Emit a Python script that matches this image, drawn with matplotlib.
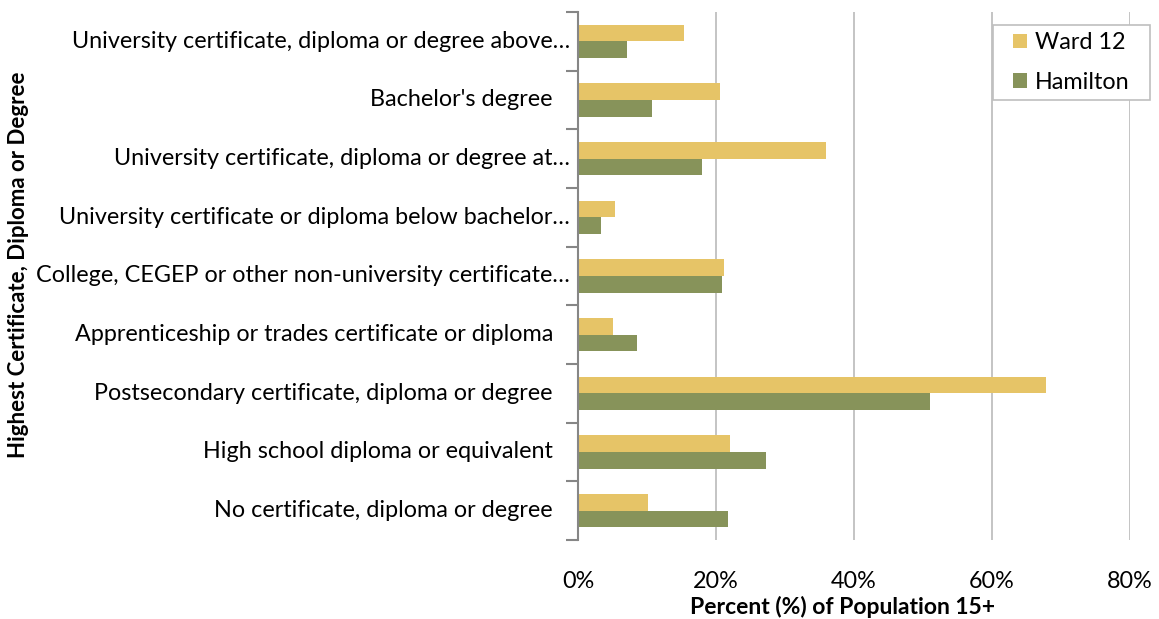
import matplotlib.pyplot as plt
import matplotlib.transforms as mtransforms
from matplotlib.patches import Rectangle
import numpy as np

plt.rcParams['font.family'] = ['Lato', 'DejaVu Sans']

# categories top to bottom
categories = [
    "University certificate, diploma or degree above\u2026",
    "Bachelor's degree",
    "University certificate, diploma or degree at\u2026",
    "University certificate or diploma below bachelor\u2026",
    "College, CEGEP or other non-university certificate\u2026",
    "Apprenticeship or trades certificate or diploma",
    "Postsecondary certificate, diploma or degree",
    "High school diploma or equivalent",
    "No certificate, diploma or degree",
]
ward12 = [15.3, 20.6, 35.9, 5.4, 21.2, 5.1, 67.8, 22.1, 10.1]
hamilton = [7.1, 10.7, 18.0, 3.4, 20.9, 8.5, 51.0, 27.3, 21.8]
xticks = [0, 20, 40, 60, 80]

gold = "#E6C467"
olive = "#87935A"
fs = 16.8

W, H = 1159, 619
fig = plt.figure(figsize=(W / 100, H / 100), dpi=100)
ax = fig.add_axes([578 / W, 1 - 540 / H, (1130 - 578) / W, (540 - 12) / H])

n = len(categories)
y = np.arange(n)[::-1]  # first category on top
h = 0.285
ax.barh(y + h / 2, ward12, height=h, color=gold, label="Ward 12", zorder=3)
ax.barh(y - h / 2, hamilton, height=h, color=olive, label="Hamilton", zorder=3)

ax.set_xlim(0, 80)
ax.set_ylim(-0.5, n - 0.5)
ax.set_xticks(xticks)
ax.set_xticklabels([f"{t}%" for t in xticks], fontsize=fs)
ax.tick_params(axis="x", length=0, pad=22)
ax.grid(axis="x", color="#BFBFBF", linewidth=1.3, zorder=0)

# category boundaries as ticks on the left axis
ax.set_yticks(np.arange(n + 1) - 0.5)
ax.set_yticklabels([])
ax.tick_params(axis="y", length=9, width=1.5, color="#868686", direction="out")

for s in ["top", "right", "bottom"]:
    ax.spines[s].set_visible(False)
ax.spines["left"].set_color("#868686")
ax.spines["left"].set_linewidth(1.5)
ax.spines["left"].set_zorder(4)

# category labels: truncated ones sit closer to the axis
for yi, lab in zip(y, categories):
    off = -8 if lab.endswith("\u2026") else -25
    tr = ax.get_yaxis_transform() + mtransforms.ScaledTranslation(off / 100, 0, fig.dpi_scale_trans)
    ax.text(0, yi, lab, transform=tr, ha="right", va="center", fontsize=fs)

fig.text(843 / W, 1 - 607 / H, "Percent (%) of Population 15+", ha="center", va="center",
         fontsize=16.5, fontweight="bold")
fig.text(19 / W, 1 - 265 / H, "Highest Certificate, Diploma or Degree", rotation=90,
         ha="center", va="center", fontsize=16, fontweight="bold")

# legend box (white, covers the 80% gridline)
fig.patches.append(Rectangle((993 / W, 1 - 100 / H), (1150 - 993) / W, 75 / H,
                             transform=fig.transFigure, facecolor="white",
                             edgecolor="#BFBFBF", linewidth=1.2, zorder=5))
handles, labels = ax.get_legend_handles_labels()
leg = fig.legend(handles, labels, loc="center", bbox_to_anchor=(1071 / W, 1 - 62.5 / H),
                 bbox_transform=fig.transFigure, fontsize=fs, frameon=False,
                 handlelength=0.6, handleheight=0.6, handletextpad=0.35, labelspacing=0.8,
                 borderpad=0, borderaxespad=0)
leg.set_zorder(6)

fig.savefig("out.png", dpi=100)
